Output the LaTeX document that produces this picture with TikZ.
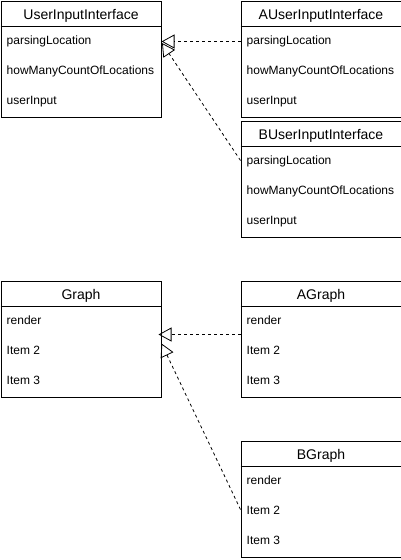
\documentclass[tikz,border=0pt]{standalone}
\usepackage{fontspec}
\setmainfont{Liberation Sans}
\usetikzlibrary{arrows.meta}
\tikzset{
  classbox/.style={draw, line width=1pt, fill=white, minimum width=160pt, minimum height=116pt, inner sep=0pt, anchor=north west},
  titletext/.style={inner sep=0pt, anchor=base, font=\fontsize{14pt}{16pt}\selectfont},
  rowtext/.style={inner sep=0pt, anchor=base west, font=\fontsize{12pt}{14pt}\selectfont},
  divider/.style={line width=1pt},
  realizes/.style={draw, line width=0.8pt, dash pattern=on 3pt off 3pt, -{Triangle[open, length=13pt, width=14pt, line width=0.8pt]}}
}
\newcommand\umlclass[6]{% name, position, title, row1, row2, row3
  \node[classbox] (#1) at (#2) {};
  \draw[divider] ([yshift=-26pt]#1.north west) -- ([yshift=-26pt]#1.north east);
  \node[titletext] (#1-title) at ([yshift=-18.5pt]#1.north) {#3};
  \node[rowtext] (#1-r1) at ([xshift=6pt,yshift=-44pt]#1.north west) {#4};
  \node[rowtext] (#1-r2) at ([xshift=6pt,yshift=-74pt]#1.north west) {#5};
  \node[rowtext] (#1-r3) at ([xshift=6pt,yshift=-104pt]#1.north west) {#6};
}
\begin{document}
\begin{tikzpicture}[x=1pt,y=-1pt]
\useasboundingbox (0,0) rectangle (401,560);
\umlclass{ui}{0.5,0.5}{UserInputInterface}{parsingLocation}{howManyCountOfLocations}{userInput}
\umlclass{aui}{240.5,0.5}{AUserInputInterface}{parsingLocation}{howManyCountOfLocations}{userInput}
\umlclass{bui}{240.5,120.5}{BUserInputInterface}{parsingLocation}{howManyCountOfLocations}{userInput}
\umlclass{g}{0.5,280.5}{Graph}{render}{Item 2}{Item 3}
\umlclass{ag}{240.5,280.5}{AGraph}{render}{Item 2}{Item 3}
\umlclass{bg}{240.5,440.5}{BGraph}{render}{Item 2}{Item 3}
% connector end points
\coordinate (aui-out) at ([yshift=-41pt]aui.north west);
\coordinate (ui-inA) at ([yshift=-41pt]ui.north east);
\coordinate (bui-out) at ([yshift=-40pt]bui.north west);
\coordinate (ui-inB) at ([xshift=0.5pt,yshift=-42.5pt]ui.north east);
\coordinate (ag-out) at ([yshift=-54pt]ag.north west);
\coordinate (g-inA) at ([xshift=-3pt,yshift=-54pt]g.north east);
\coordinate (bg-out) at ([yshift=-69pt]bg.north west);
\coordinate (g-inB) at ([xshift=0pt,yshift=-63pt]g.north east);
\draw[realizes] (aui-out) -- (ui-inA);
\draw[realizes] (bui-out) -- (ui-inB);
\draw[realizes] (ag-out) -- (g-inA);
\draw[realizes] (bg-out) -- (g-inB);
\end{tikzpicture}
\end{document}
